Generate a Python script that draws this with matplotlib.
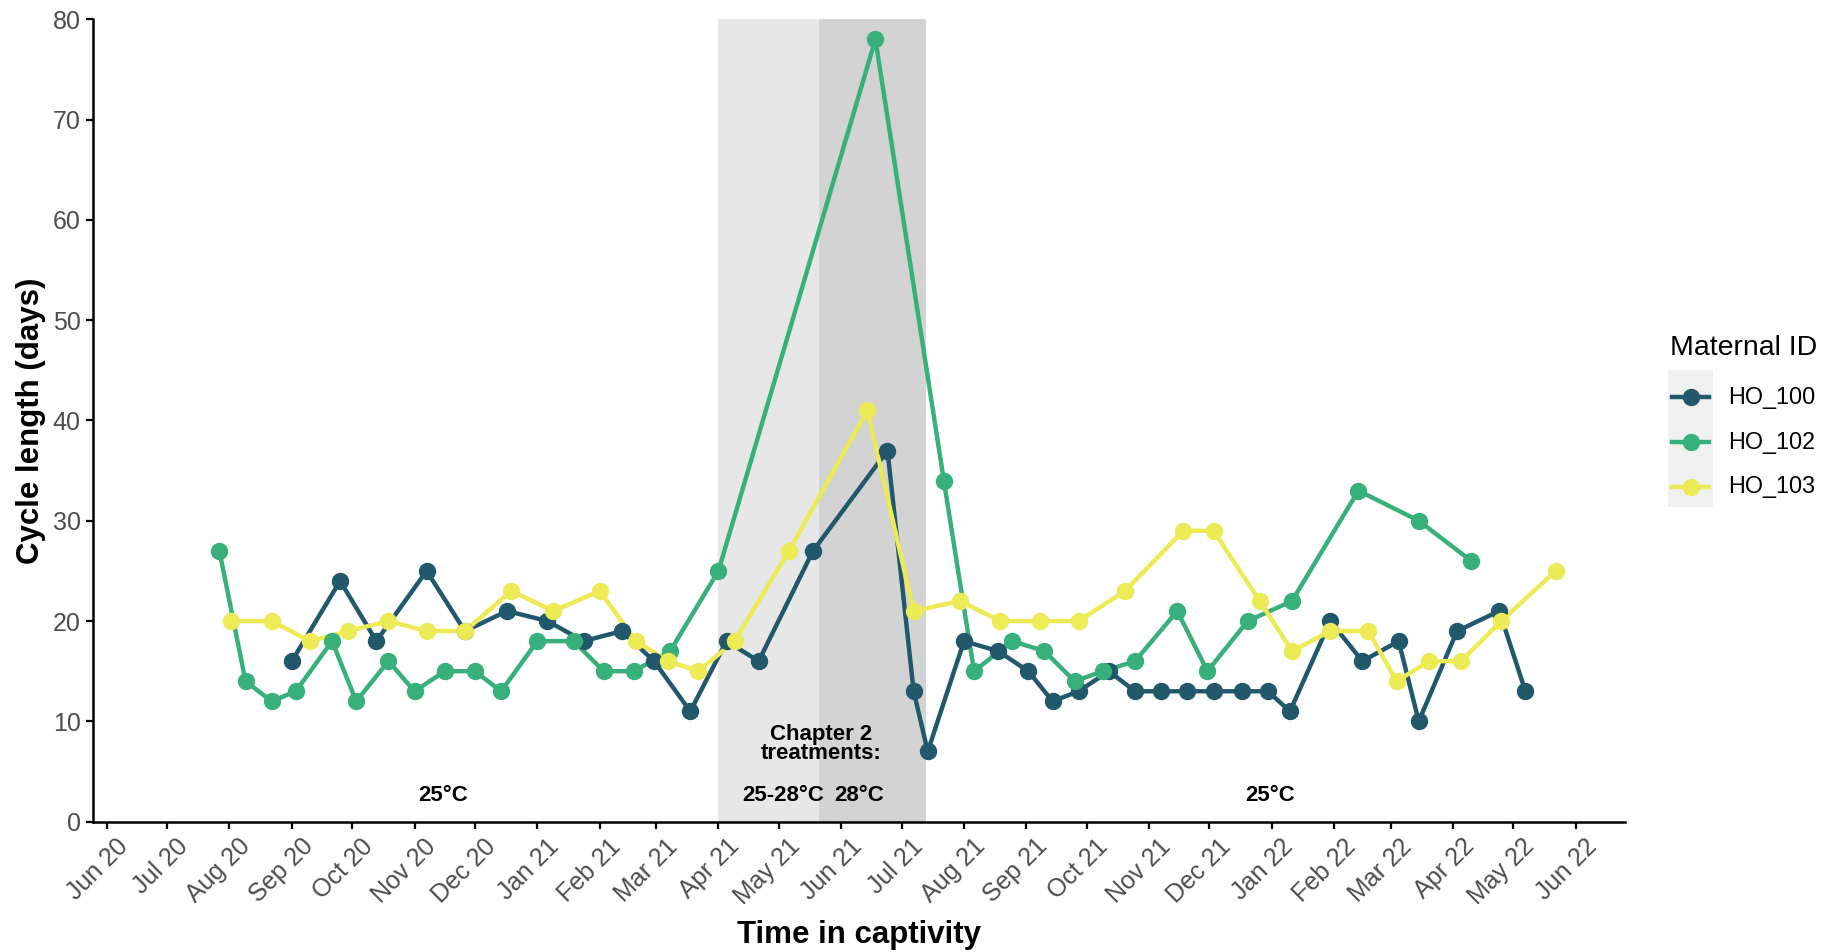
import matplotlib
matplotlib.use("Agg")
import matplotlib.pyplot as plt
import matplotlib.dates as mdates
from matplotlib.lines import Line2D
from matplotlib.patches import Rectangle
from matplotlib.transforms import ScaledTranslation
import pandas as pd

plt.rcParams["font.family"] = ["Liberation Sans", "DejaVu Sans"]

# ---- data: cycle length (days) per maternal ID ----
ho100_dates = ["2020-09-01", "2020-09-25", "2020-10-13", "2020-11-07", "2020-11-26",
               "2020-12-17", "2021-01-06", "2021-01-24", "2021-02-12", "2021-02-28",
               "2021-03-18", "2021-04-05", "2021-04-21", "2021-05-18", "2021-06-24",
               "2021-07-07", "2021-07-14", "2021-08-01", "2021-08-18", "2021-09-02",
               "2021-09-14", "2021-09-27", "2021-10-12", "2021-10-25", "2021-11-07",
               "2021-11-20", "2021-12-03", "2021-12-17", "2021-12-30", "2022-01-10",
               "2022-01-30", "2022-02-15", "2022-03-05", "2022-03-15", "2022-04-03",
               "2022-04-24", "2022-05-07"]
ho100_len = [16, 24, 18, 25, 19, 21, 20, 18, 19, 16, 11, 18, 16, 27, 37, 13, 7, 18, 17, 15,
             12, 13, 15, 13, 13, 13, 13, 13, 13, 11, 20, 16, 18, 10, 19, 21, 13]

ho102_dates = ["2020-07-27", "2020-08-09", "2020-08-22", "2020-09-03", "2020-09-21",
               "2020-10-03", "2020-10-19", "2020-11-01", "2020-11-16", "2020-12-01",
               "2020-12-14", "2021-01-01", "2021-01-19", "2021-02-03", "2021-02-18",
               "2021-03-08", "2021-04-01", "2021-06-18", "2021-07-22", "2021-08-06",
               "2021-08-25", "2021-09-10", "2021-09-25", "2021-10-09", "2021-10-25",
               "2021-11-15", "2021-11-30", "2021-12-20", "2022-01-11", "2022-02-13",
               "2022-03-15", "2022-04-10"]
ho102_len = [27, 14, 12, 13, 18, 12, 16, 13, 15, 15, 13, 18, 18, 15, 15, 17, 25, 78, 34, 15,
             18, 17, 14, 15, 16, 21, 15, 20, 22, 33, 30, 26]

ho103_dates = ["2020-08-02", "2020-08-22", "2020-09-10", "2020-09-29", "2020-10-19",
               "2020-11-07", "2020-11-26", "2020-12-19", "2021-01-09", "2021-02-01",
               "2021-02-19", "2021-03-07", "2021-03-22", "2021-04-09", "2021-05-06",
               "2021-06-14", "2021-07-07", "2021-07-30", "2021-08-19", "2021-09-08",
               "2021-09-27", "2021-10-20", "2021-11-18", "2021-12-03", "2021-12-26",
               "2022-01-11", "2022-01-30", "2022-02-18", "2022-03-04", "2022-03-20",
               "2022-04-05", "2022-04-25", "2022-05-22"]
ho103_len = [20, 20, 18, 19, 20, 19, 19, 23, 21, 23, 18, 16, 15, 18, 27, 41, 21, 22, 20, 20,
             20, 23, 29, 29, 22, 17, 19, 19, 14, 16, 16, 20, 25]

ids = ["HO_100", "HO_102", "HO_103"]
colors = ["#22586B", "#38B07C", "#ECEA55"]
series = [(ho100_dates, ho100_len), (ho102_dates, ho102_len), (ho103_dates, ho103_len)]

# treatment windows
ramp_start, ramp_end = "2021-04-01", "2021-05-21"
hot_start, hot_end = "2021-05-21", "2021-07-13"

W, H = 1836, 952
fig = plt.figure(figsize=(W / 100, H / 100), dpi=100)
ax = fig.add_axes([0.0508, 0.1369, 0.8343, 0.8429])

ax.axvspan(pd.Timestamp(ramp_start), pd.Timestamp(ramp_end), color="#E7E7E7", lw=0, zorder=0)
ax.axvspan(pd.Timestamp(hot_start), pd.Timestamp(hot_end), color="#D3D3D3", lw=0, zorder=0)

# lines first, then all points on top (like geom_line + geom_point)
for (d, v), c in zip(series, colors):
    ax.plot(pd.to_datetime(d), v, color=c, lw=3.2, zorder=2, solid_capstyle="round")
for (d, v), c in zip(series, colors):
    ax.plot(pd.to_datetime(d), v, ls="none", marker="o", ms=11.5, color=c, zorder=3)

# annotations
tkw = dict(ha="center", va="center", fontsize=16, fontweight="bold")
ax.text(pd.Timestamp("2020-11-15"), 2.6, "25°C", **tkw)
ax.text(pd.Timestamp("2021-12-31"), 2.6, "25°C", **tkw)
ax.text(pd.Timestamp("2021-05-03"), 2.6, "25-28°C", **tkw)
ax.text(pd.Timestamp("2021-06-10"), 2.6, "28°C", **tkw)
ax.text(pd.Timestamp("2021-05-22"), 7.75, "Chapter 2\ntreatments:", linespacing=0.9, **tkw)

ax.set_ylim(0, 80)
ax.set_xlim(pd.Timestamp("2020-05-25 08:00"), pd.Timestamp("2022-06-25 12:00"))
ax.set_yticks(range(0, 81, 10))
ax.xaxis.set_major_locator(mdates.MonthLocator())
ax.xaxis.set_major_formatter(mdates.DateFormatter("%b %y"))
ax.tick_params(axis="both", labelsize=18, labelcolor="#4D4D4D", length=5, width=1.6, pad=4)
for lab in ax.get_xticklabels():
    lab.set_rotation(45)
    lab.set_ha("right")
    lab.set_va("top")
    lab.set_rotation_mode("anchor")
    lab.set_transform(lab.get_transform() + ScaledTranslation(9 / 100, 0, fig.dpi_scale_trans))

for s in ["top", "right"]:
    ax.spines[s].set_visible(False)
for s in ["left", "bottom"]:
    ax.spines[s].set_linewidth(1.8)

ax.set_ylabel("Cycle length (days)", fontsize=22.5, fontweight="bold")
ax.set_xlabel("Time in captivity", fontsize=22.5, fontweight="bold")
ax.yaxis.set_label_coords(-0.031, 0.5)
ax.xaxis.set_label_coords(0.5, -0.123)

# legend drawn by hand: title, grey key panel, keys, labels
fig.text(1670 / W, 1 - 348 / H, "Maternal ID", fontsize=20.5, ha="left", va="center")
fig.add_artist(Rectangle((1668 / W, 1 - 507 / H), 45 / W, 137 / H, transform=fig.transFigure,
                         facecolor="#F0F0F0", edgecolor="none", zorder=0))
key_y = [397, 442, 487]
for c, name, ky in zip(colors, ids, key_y):
    yy = 1 - ky / H
    fig.add_artist(Line2D([1672 / W, 1709 / W], [yy, yy], transform=fig.transFigure,
                          color=c, lw=3.2, zorder=2))
    fig.add_artist(Line2D([1690.5 / W], [yy], transform=fig.transFigure, ls="none",
                          marker="o", ms=11.5, color=c, zorder=3))
    fig.text(1728 / W, yy, name, fontsize=16.8, ha="left", va="center")

fig.savefig("out.png", dpi=100)
